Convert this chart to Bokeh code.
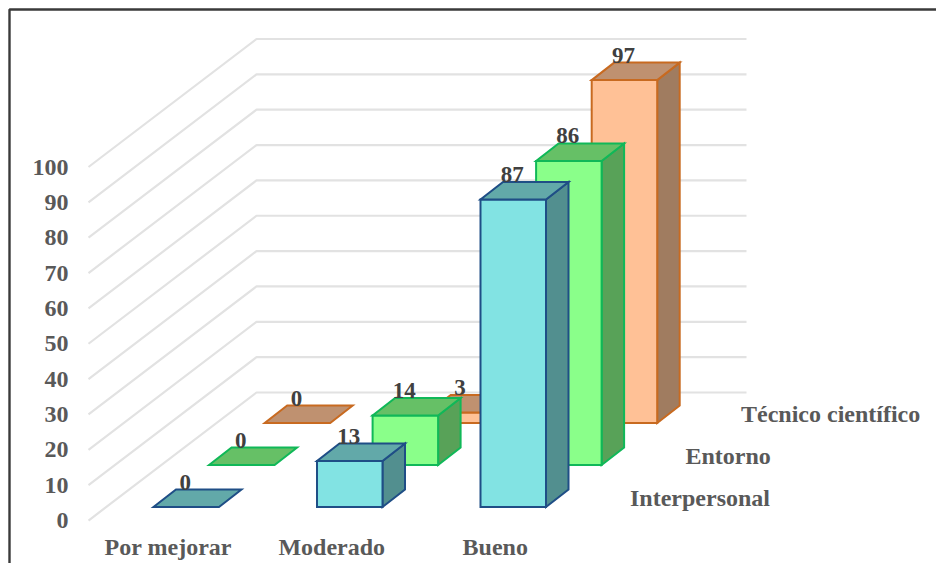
from bokeh.plotting import figure
from bokeh.models import Range1d
from bokeh.core.properties import value
from bokeh.embed import file_html
from bokeh.resources import INLINE

categories = ["Por mejorar", "Moderado", "Bueno"]
series_names = ["Interpersonal", "Entorno", "Técnico científico"]
interpersonal = [0, 13, 87]
entorno = [0, 14, 86]
tecnico = [0, 3, 97]
tick_values = [0, 10, 20, 30, 40, 50, 60, 70, 80, 90, 100]

FONT = value("Liberation Serif")
UNIT = 3.535
BAR_W, STEP = 65.5, 163.5
ROW_DX, ROW_DY = 55.6, -42.0
DEP_DX, DEP_DY = 22.5, -17.5
X0, Y0 = 153.0, 506.5

styles = [
    ("#82E3E3", "#62A9A9", "#528F8F", "#1F4E86"),
    ("#8AFF8A", "#66C066", "#58A258", "#10B858"),
    ("#FFC196", "#BF9170", "#A07C60", "#C86A20"),
]

W, H = 936, 563
p = figure(width=W, height=H, x_range=Range1d(0, W), y_range=Range1d(H, 0),
           output_backend="svg", toolbar_location=None, min_border=0,
           outline_line_color=None, background_fill_color="white")
p.axis.visible = False
p.grid.visible = False

# frame
p.line([9, 9, W], [H, 9, 9], line_color="#3A3A3A", line_width=2.4)

# walls: gridlines
FX, FY, BX, BY, RX = 88.0, 520.0, 256.0, 392.0, 746.0
for t in tick_values:
    d = t * UNIT
    p.line([FX, BX, RX], [FY - d, BY - d, BY - d], line_color="#E2E2E2", line_width=2.2)
    p.text([68], [FY - d], text=[str(t)], text_align="right", text_baseline="middle",
           text_font=FONT, text_font_style="bold", text_font_size="24px", text_color="#595959")

rows = [interpersonal, entorno, tecnico]
for r in [2, 1, 0]:
    front, top, side, edge = styles[r]
    for c, val in enumerate(rows[r]):
        x = X0 + c * STEP + r * ROW_DX
        y = Y0 + r * ROW_DY
        h = val * UNIT
        xr = x + BAR_W
        yt = y - h
        kw = dict(line_color=edge, line_width=2, line_join="miter")
        if val > 0:
            p.patch([xr, xr + DEP_DX, xr + DEP_DX, xr], [y, y + DEP_DY, yt + DEP_DY, yt], fill_color=side, **kw)
            p.patch([x, xr, xr, x], [y, y, yt, yt], fill_color=front, **kw)
        p.patch([x, xr, xr + DEP_DX, x + DEP_DX], [yt, yt, yt + DEP_DY, yt + DEP_DY], fill_color=top, **kw)

# value labels
for r in [2, 1, 0]:
    for c, val in enumerate(rows[r]):
        x = X0 + c * STEP + r * ROW_DX + BAR_W / 2 - 1
        y = Y0 + r * ROW_DY - val * UNIT + DEP_DY - 7.5
        p.text([x], [y], text=[str(val)], text_align="center", text_baseline="middle",
               text_font=FONT, text_font_style="bold", text_font_size="23px", text_color="#404040")

# category labels
for c, name in enumerate(categories):
    p.text([X0 + BAR_W / 2 - 17 + c * STEP - 1], [546.5], text=[name], text_align="center", text_baseline="middle",
           text_font=FONT, text_font_style="bold", text_font_size="24px", text_color="#595959")

# depth labels
for r, name in enumerate(series_names):
    p.text([629.5 + r * 55.5], [497.5 - r * 42], text=[name], text_align="left", text_baseline="middle",
           text_font=FONT, text_font_style="bold", text_font_size="24px", text_color="#595959")

open("out.html", "w").write(file_html(p, INLINE))
